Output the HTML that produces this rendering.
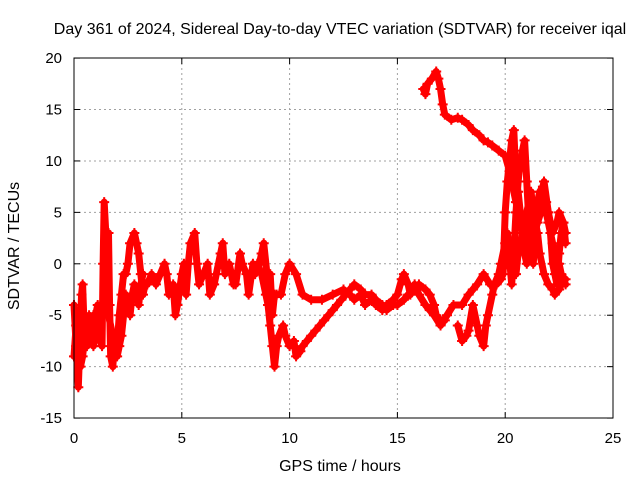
<!DOCTYPE html>
<html><head><meta charset="utf-8"><style>
body{margin:0;background:#fff}
svg{display:block;font-family:"Liberation Sans",sans-serif}
</style></head><body>
<svg width="640" height="480" id="chart">
<text x="340" y="34" font-size="16" text-anchor="middle">Day 361 of 2024, Sidereal Day-to-day VTEC variation (SDTVAR) for receiver iqal</text>
<text x="340" y="471" font-size="16" text-anchor="middle">GPS time / hours</text>
<text x="19" y="246" font-size="16" text-anchor="middle" transform="rotate(-90 19 246)">SDTVAR / TECUs</text>
<g id="grid"></g>
<g id="ticks"></g>
<g id="series"></g>
<rect x="74" y="58" width="539" height="360" fill="none" stroke="#000"/>
</svg>
<script>
const xTicks=[0,5,10,15,20,25];
const yTicks=[-15,-10,-5,0,5,10,15,20];
const trackA=[[0,-4],[0.1,-8],[0.2,-12],[0.3,-6],[0.35,-3],[0.4,-2],[0.5,-8],[0.6,-6],[0.7,-7],[0.9,-5],[1.0,-6],[1.1,-7],[1.3,-8],[1.35,0],[1.4,6],[1.5,2],[1.6,3],[1.65,-4],[1.7,-9],[1.8,-10],[1.9,-7],[2.0,-8],[2.1,-5],[2.2,-3],[2.3,-1],[2.4,-1],[2.5,0],[2.6,2],[2.8,3],[2.9,2],[3.0,1],[3.1,-1],[3.2,-3],[3.3,-2],[3.4,-2],[3.6,-1],[3.8,-2],[4.0,-1],[4.2,0],[4.3,-1],[4.4,-3],[4.6,-2],[4.7,-5],[4.8,-4],[5.0,-1],[5.1,0],[5.2,-3],[5.3,0],[5.4,2],[5.6,3],[5.7,0],[5.8,-2],[6.0,-1],[6.2,0],[6.3,-3],[6.5,-2],[6.6,-1],[6.8,1],[6.9,2],[7.0,-1],[7.2,0],[7.4,-2],[7.5,-2],[7.7,1],[7.8,0],[8.0,-1],[8.1,-3],[8.3,0],[8.4,-1],[8.6,0],[8.7,1],[8.8,2],[9.0,-2],[9.1,-1],[9.2,-5],[9.3,-3],[9.4,-3],[9.6,-3],[9.8,-1],[10.0,0],[10.3,-1],[10.6,-3],[11.0,-3.5],[11.5,-3.5],[12.0,-3],[12.5,-2.5],[12.8,-3],[13.0,-3.5],[13.3,-3],[13.5,-4],[13.8,-3.5],[14.0,-4],[14.3,-4.5],[14.5,-4],[14.8,-3.5],[15.0,-3],[15.2,-1.5],[15.3,-1],[15.5,-2],[15.6,-3],[15.8,-2],[16.0,-3],[16.3,-4],[16.5,-4.5],[16.7,-5],[17.0,-6],[17.3,-5],[17.6,-4],[18.0,-4],[18.3,-3],[18.5,-2.5],[18.7,-2],[19.0,-1],[19.3,-2],[19.6,-2],[19.8,-1.5],[19.9,-1],[20.0,5],[20.1,8],[20.2,10],[20.3,12],[20.4,13],[20.5,8],[20.6,7],[20.7,5],[20.85,3],[21.0,2],[21.3,4],[21.5,6],[21.6,7],[21.75,7.5],[21.9,6],[22.0,5],[22.2,3],[22.4,4],[22.5,5],[22.7,4],[22.8,2]];
const trackB=[[8.5,0],[8.7,-1],[8.9,-3],[9.0,-4],[9.1,-6],[9.2,-8],[9.3,-10],[9.4,-8],[9.5,-7],[9.7,-6],[9.8,-7],[10.0,-8],[10.2,-7.5],[10.3,-9],[10.5,-8.5],[10.6,-8],[10.8,-7.5],[11.0,-7],[11.2,-6.5],[11.4,-6],[11.6,-5.5],[11.8,-5],[12.0,-4.5],[12.2,-4],[12.4,-3.5],[12.6,-3],[12.8,-2.5],[13.0,-2],[13.3,-2.5],[13.5,-3],[13.8,-3],[14.0,-3.5],[14.3,-4],[14.5,-4.5],[14.8,-4],[15.0,-4],[15.3,-3.5],[15.5,-3],[15.8,-2.5],[16.0,-2],[16.3,-2.5],[16.5,-3],[16.7,-4],[16.8,-5],[17.0,-5.5],[17.2,-5.5]];
const trackC=[[16.2,17],[16.3,16.5],[16.4,17.5],[16.6,18],[16.8,18.7],[16.9,18],[17.0,17],[17.1,15.5],[17.2,14.5],[17.5,14],[17.8,14.2],[18.0,14],[18.3,13.5],[18.5,13],[18.8,12.5],[19.0,12],[19.2,11.8],[19.4,11.5],[19.7,11],[20.0,10.5],[20.2,9],[20.3,8],[20.5,6],[20.6,5],[20.8,3],[20.9,1],[21.0,0],[21.2,2],[21.5,4],[21.8,6],[22.0,4],[22.2,2],[22.3,1],[22.5,0],[22.6,-1],[22.8,-2]];
const trackD=[[17.8,-6],[18.0,-7.5],[18.2,-7],[18.3,-6.5],[18.5,-4],[18.7,-6],[18.8,-7],[19.0,-8],[19.1,-6],[19.2,-5],[19.4,-3],[19.5,-2],[19.7,-1],[19.8,0],[20.0,2],[20.1,1],[20.2,0],[20.4,-0.5],[20.5,-1],[20.6,1],[20.8,3],[21.0,5],[21.2,7],[21.3,5],[21.5,3],[21.6,1],[21.8,-1],[22.0,-2],[22.2,-2.5],[22.3,-3],[22.5,-2.5],[22.6,-2],[22.8,-1.5]];
const trackE=[[0,-9],[0.1,-6],[0.2,-7],[0.3,-10],[0.4,-9],[0.5,-7],[0.6,-8],[0.7,-5],[0.8,-6],[0.9,-8],[1.0,-5],[1.1,-4],[1.2,-6],[1.4,-4],[1.5,-3],[1.6,-5],[1.8,-7],[2.0,-9],[2.1,-8],[2.2,-7],[2.3,-5],[2.4,-3],[2.5,-4],[2.6,-5],[2.7,-3],[2.8,-2],[3.0,-4],[3.1,-2],[3.2,-1]];
const trackF=[[19.8,-1],[20.0,0],[20.1,3],[20.3,-2],[20.4,1],[20.5,5],[20.6,8],[20.7,10],[20.8,11],[20.9,12],[21.0,8],[21.1,4],[21.2,2],[21.3,0],[21.4,3],[21.6,6],[21.8,8],[22.0,5],[22.1,3],[22.2,0],[22.3,-1],[22.4,-2],[22.5,1],[22.6,3],[22.7,4],[22.8,3]];
const tracks=[trackA,trackB,trackC,trackD,trackE,trackF];
const NS='http://www.w3.org/2000/svg';
const X=t=>74+t*(539/25);
const Y=v=>263.8-v*(360/35);
function mk(tag,attrs,parent){const e=document.createElementNS(NS,tag);for(const k in attrs)e.setAttribute(k,attrs[k]);parent.appendChild(e);return e;}
const grid=document.getElementById('grid'),ticks=document.getElementById('ticks'),ser=document.getElementById('series');
xTicks.forEach(t=>{const x=X(t);
 if(t>0&&t<25){const g=mk('line',{x1:x,x2:x,y1:58,y2:418,stroke:'#a0a0a0','stroke-dasharray':'2,3'},grid);}
 mk('line',{x1:x,x2:x,y1:418,y2:412,stroke:'#000'},ticks);mk('line',{x1:x,x2:x,y1:58,y2:64,stroke:'#000'},ticks);
 const l=mk('text',{x:x,y:443,'font-size':15,'text-anchor':'middle'},ticks);l.textContent=t;
 });
yTicks.forEach(v=>{const y=Y(v);
 if(v>-15&&v<20){const g=mk('line',{x1:74,x2:613,y1:y,y2:y,stroke:'#a0a0a0','stroke-dasharray':'2,3'},grid);}
 mk('line',{x1:74,x2:80,y1:y,y2:y,stroke:'#000'},ticks);mk('line',{x1:613,x2:607,y1:y,y2:y,stroke:'#000'},ticks);
 const l=mk('text',{x:62,y:y+5,'font-size':15,'text-anchor':'end'},ticks);l.textContent=v;
 });
tracks.forEach(tr=>{
 const p=mk('polyline',{points:tr.map(d=>X(d[0])+','+Y(d[1])).join(' '),fill:'none',stroke:'#ff0000','stroke-width':7,'stroke-linejoin':'round','stroke-linecap':'round'},ser);
 
 tr.forEach(d=>{const x=X(d[0]),y=Y(d[1]);
  const m=mk('path',{d:`M${x-5},${y}h10M${x},${y-5}v10`,stroke:'#ff0000','stroke-width':2},ser);
  });
});
</script>
</body></html>
